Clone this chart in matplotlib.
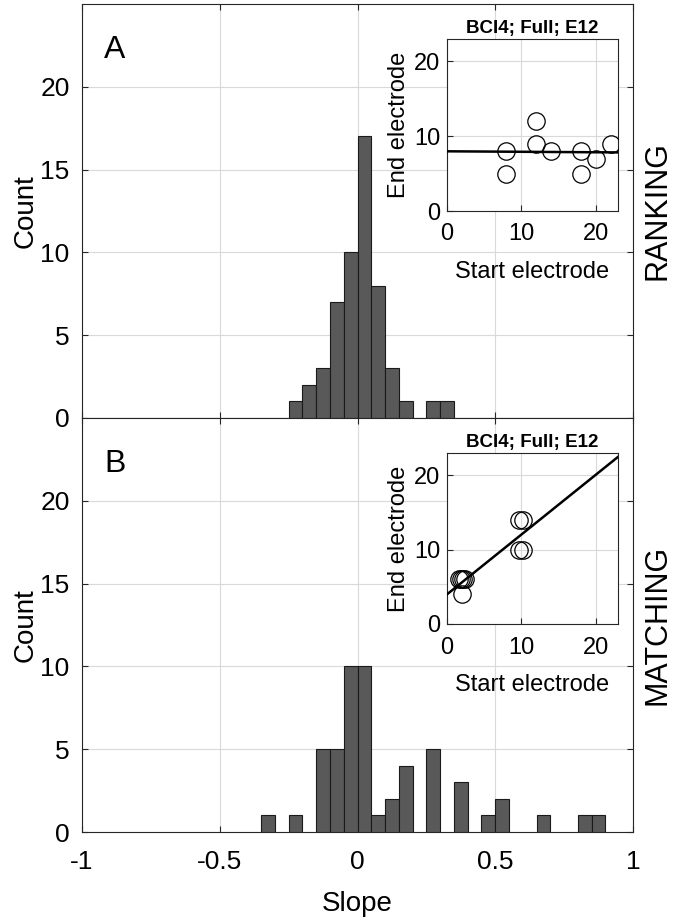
import numpy as np
import matplotlib
matplotlib.use("Agg")
import matplotlib.pyplot as plt

plt.rcParams['font.family'] = ['Liberation Sans', 'DejaVu Sans']

# histograma de inclinações (bordas esquerdas dos bins, largura 0.05)
bin_width = 0.05
ranking_left = [-0.25, -0.20, -0.15, -0.10, -0.05, 0.00, 0.05, 0.10, 0.15, 0.25, 0.30]
ranking_count = [1, 2, 3, 7, 10, 17, 8, 3, 1, 1, 1]

matching_left = [-0.35, -0.25, -0.15, -0.10, -0.05, 0.00, 0.05, 0.10, 0.15,
                 0.25, 0.35, 0.45, 0.50, 0.65, 0.80, 0.85]
matching_count = [1, 1, 5, 5, 10, 10, 1, 2, 4, 5, 3, 1, 2, 1, 1, 1]

# eletrodos do inset
ranking_start = [8, 8, 12, 12, 14, 18, 18, 20, 22]
ranking_end = [8, 5, 12, 9, 8, 8, 5, 7, 9]

matching_start = [1.6, 1.9, 2.2, 2.4, 2.0, 9.7, 10.2, 9.7, 10.2]
matching_end = [6, 6, 6, 6, 4, 14, 14, 10, 10]

W, H = 680, 924
fig = plt.figure(figsize=(W / 100, H / 100), dpi=100)

grid_kw = dict(color='#d9d9d9', linewidth=0.8)
spine_c = '#262626'


def px(l, t, r, b):
    return [l / W, 1 - b / H, (r - l) / W, (b - t) / H]


def estilo(ax, fs):
    ax.grid(True, **grid_kw)
    ax.set_axisbelow(True)
    for s in ax.spines.values():
        s.set_color(spine_c)
        s.set_linewidth(0.8)
    ax.tick_params(direction='in', length=4, width=0.8, color=spine_c,
                   labelsize=fs, top=True, right=True)


def histograma(ax, left, count, letra, rotulo, mostrar_x):
    ax.bar(left, count, width=bin_width, align='edge', color='#595959',
           edgecolor='#1a1a1a', linewidth=0.8, zorder=3)
    ax.set_xlim(-1, 1)
    ax.set_ylim(0, 25)
    ax.set_xticks([-1, -0.5, 0, 0.5, 1])
    ax.set_xticklabels(['-1', '-0.5', '0', '0.5', '1'])
    ax.set_yticks([0, 5, 10, 15, 20])
    estilo(ax, 19)
    ax.tick_params(axis='x', pad=13)
    ax.tick_params(axis='y', pad=9)
    if not mostrar_x:
        ax.tick_params(labelbottom=False)
    else:
        ax.set_xlabel('Slope', fontsize=20, labelpad=12)
    ax.set_ylabel('Count', fontsize=20, labelpad=1)
    ax.text(0.06, 0.89, letra, transform=ax.transAxes, fontsize=23,
            ha='center', va='center')
    ax.text(1.045, 0.5, rotulo, transform=ax.transAxes, fontsize=22,
            rotation=90, ha='center', va='center')


def inset(ax, xs, ys):
    ax.set_facecolor('white')
    ax.plot(xs, ys, 'o', mfc='none', mec='black', ms=12.5, mew=0.9, zorder=3)
    a, b = np.polyfit(xs, ys, 1)
    xx = np.array([0, 23])
    ax.plot(xx, a * xx + b, color='black', linewidth=1.8, zorder=4)
    ax.set_xlim(0, 23)
    ax.set_ylim(0, 23)
    ax.set_xticks([0, 10, 20])
    ax.set_yticks([0, 10, 20])
    estilo(ax, 17)
    ax.tick_params(top=False, right=False)
    ax.tick_params(axis='x', pad=9)
    ax.tick_params(axis='y', pad=5)
    ax.set_xlabel('Start electrode', fontsize=17, labelpad=11)
    ax.set_ylabel('End electrode', fontsize=17, labelpad=3)
    ax.set_title('BCI4; Full; E12', fontsize=13.5, fontweight='bold', pad=4)


axA = fig.add_axes(px(82, 4, 633, 418))
axB = fig.add_axes(px(82, 418, 633, 832))
histograma(axA, ranking_left, ranking_count, 'A', 'RANKING', False)
histograma(axB, matching_left, matching_count, 'B', 'MATCHING', True)

insA = fig.add_axes(px(447, 39, 618, 211))
insB = fig.add_axes(px(447, 453, 618, 624))
inset(insA, ranking_start, ranking_end)
inset(insB, matching_start, matching_end)

fig.savefig('out.png', dpi=100)
